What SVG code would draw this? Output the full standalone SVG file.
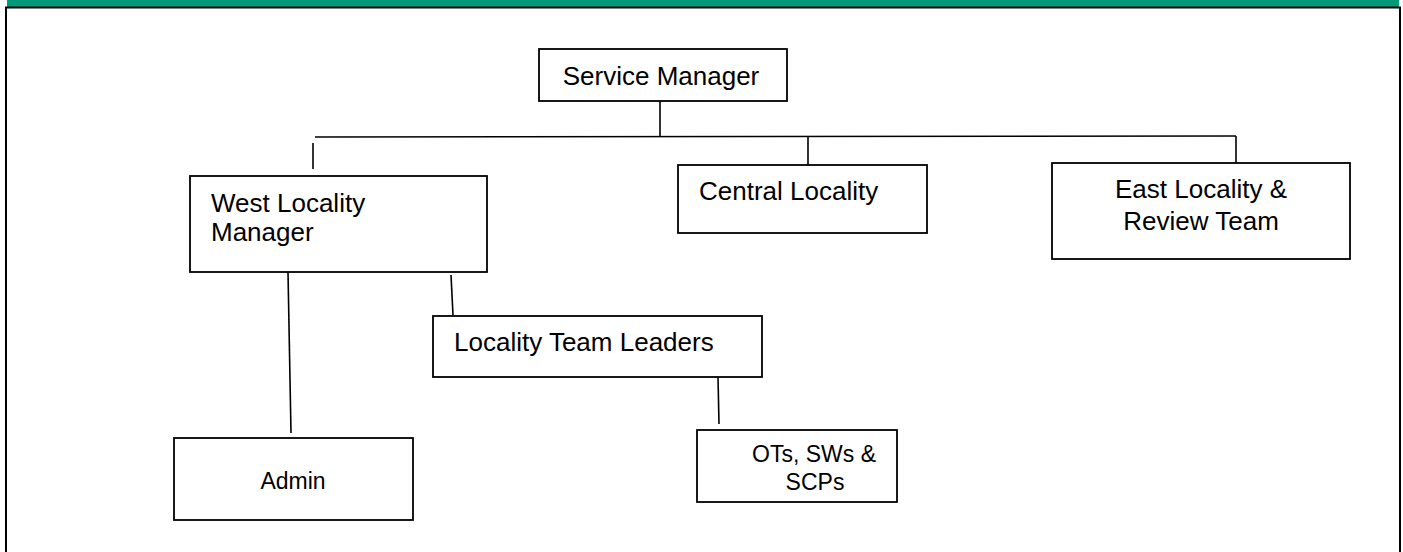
<svg xmlns="http://www.w3.org/2000/svg" width="1403" height="552" viewBox="0 0 1403 552">
<style>
.box{fill:#fff;stroke:#000;stroke-width:1.8}
.ln{stroke:#000;stroke-width:1.6;fill:none}
.t{font-family:"Liberation Sans",Arial,sans-serif;font-size:26px;fill:#000}
.s{font-family:"Liberation Sans",Arial,sans-serif;font-size:23px;fill:#000}
</style>
<rect x="0" y="0" width="1403" height="552" fill="#fff"/>
<g id="frame">
<rect x="7" y="0" width="1392" height="7" fill="#00997A"/>
<line x1="5" y1="7.5" x2="1401" y2="7.5" stroke="#000" stroke-width="2"/>
<line x1="6" y1="7" x2="6" y2="552" stroke="#000" stroke-width="2"/>
<line x1="1400" y1="7" x2="1400" y2="552" stroke="#000" stroke-width="2"/>
</g>
<g id="connectors">
<line class="ln" x1="660" y1="101" x2="660" y2="137"/>
<line class="ln" x1="315" y1="137" x2="1236" y2="136"/>
<line class="ln" x1="313" y1="143" x2="313" y2="169"/>
<line class="ln" x1="808" y1="137" x2="808" y2="165"/>
<line class="ln" x1="1236" y1="136" x2="1236" y2="163"/>
<line class="ln" x1="451" y1="275" x2="453" y2="315"/>
<line class="ln" x1="288" y1="272" x2="291" y2="433"/>
<line class="ln" x1="718" y1="377" x2="719" y2="424"/>
</g>
<g id="service-manager">
<rect class="box" x="539" y="49" width="248" height="52"/>
<text class="t" x="661" y="85" text-anchor="middle">Service Manager</text>
</g>
<g id="west-locality-manager">
<rect class="box" x="190" y="176" width="297" height="96"/>
<text class="t" x="211" y="212">West Locality</text>
<text class="t" x="211" y="241">Manager</text>
</g>
<g id="central-locality">
<rect class="box" x="678" y="165" width="249" height="68"/>
<text class="t" x="699" y="200">Central Locality</text>
</g>
<g id="east-locality">
<rect class="box" x="1052" y="163" width="298" height="96"/>
<text class="t" x="1201" y="198" text-anchor="middle">East Locality &amp;</text>
<text class="t" x="1201" y="230" text-anchor="middle">Review Team</text>
</g>
<g id="locality-team-leaders">
<rect class="box" x="433" y="316" width="329" height="61"/>
<text class="t" x="454" y="351">Locality Team Leaders</text>
</g>
<g id="admin">
<rect class="box" x="174" y="438" width="239" height="82"/>
<text class="s" x="293" y="489" text-anchor="middle">Admin</text>
</g>
<g id="ots-sws-scps">
<rect class="box" x="697" y="430" width="200" height="72"/>
<text class="s" x="814" y="462" text-anchor="middle">OTs, SWs &amp;</text>
<text class="s" x="815" y="490" text-anchor="middle">SCPs</text>
</g>
</svg>
